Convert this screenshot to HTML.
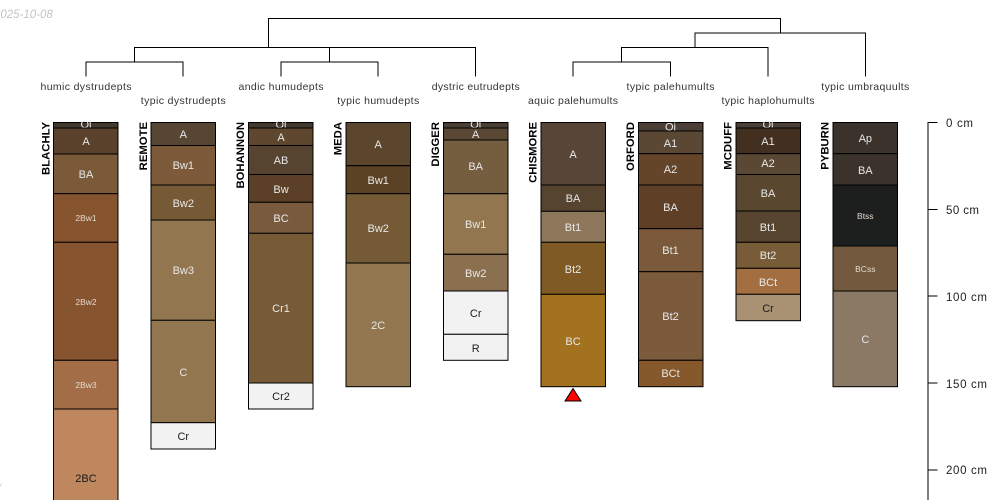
<!DOCTYPE html>
<html><head><meta charset="utf-8"><style>
html,body{margin:0;padding:0;background:#fff}
svg{display:block}
text{font-family:"Liberation Sans",sans-serif;font-size:11px}
.h{fill:#e8e8e8;text-anchor:middle}
.d{fill:#1a1a1a;text-anchor:middle}
.s{font-size:8.5px;fill:#e2d8cc;text-anchor:middle}
.t{fill:#333;text-anchor:middle;font-size:10.5px}
.i{font-weight:bold;font-size:11.3px;fill:#000;text-anchor:end}
.a{fill:#222;font-size:11.5px}
rect{stroke:#000;stroke-width:1}
.l{stroke:#000;stroke-width:1;fill:none}
</style></head><body>
<svg width="1000" height="500" viewBox="0 0 1000 500" xmlns="http://www.w3.org/2000/svg">
<text x="-6" y="18" fill="#c4c4c4" font-style="italic" style="font-size:11.5px">2025-10-08</text>
<text x="-2" y="491" fill="#d0d0d0" font-style="italic" style="font-size:11px">/</text>

<path class="l" d="M268.5 47.5V18.5H780.5V33M134.5 62V47.5H475.5V76.5M329.5 47.5V62M86 76.5V62H183V76.5M281 76.5V62H378V76.5M621.5 62V47.5H768V76.5M573 76.5V62H670.5V76.5M695 47.5V33H865.5V76.5"/>

<text class="t" x="86" y="90" textLength="91">humic dystrudepts</text>
<text class="t" x="183.3" y="104" textLength="85">typic dystrudepts</text>
<text class="t" x="281" y="90" textLength="85">andic humudepts</text>
<text class="t" x="378.2" y="104" textLength="82">typic humudepts</text>
<text class="t" x="475.7" y="90" textLength="88">dystric eutrudepts</text>
<text class="t" x="573" y="104" textLength="90">aquic palehumults</text>
<text class="t" x="670.5" y="90" textLength="88">typic palehumults</text>
<text class="t" x="768" y="104" textLength="93">typic haplohumults</text>
<text class="t" x="865.3" y="90" textLength="88">typic umbraquults</text>

<!-- BLACHLY -->
<g>
<rect x="53.5" y="122.5" width="64.5" height="6" fill="#44392f"/><text class="h" x="86" y="128">Oi</text>
<rect x="53.5" y="128" width="64.5" height="26" fill="#5a412b"/><text class="h" x="86" y="145">A</text>
<rect x="53.5" y="154" width="64.5" height="39.7" fill="#7b5a3a"/><text class="h" x="86" y="178">BA</text>
<rect x="53.5" y="193.7" width="64.5" height="48.6" fill="#875430"/><text class="s" x="86" y="221">2Bw1</text>
<rect x="53.5" y="242.3" width="64.5" height="118" fill="#875430"/><text class="s" x="86" y="305">2Bw2</text>
<rect x="53.5" y="360.3" width="64.5" height="48.7" fill="#a36e47"/><text class="s" x="86" y="388">2Bw3</text>
<rect x="53.5" y="409" width="64.5" height="100" fill="#bf875d"/><text class="d" x="86" y="482">2BC</text>
</g>
<text class="i" transform="translate(49.5,122) rotate(-90)">BLACHLY</text>

<!-- REMOTE -->
<g>
<rect x="151" y="122.5" width="64.5" height="23" fill="#574634"/><text class="h" x="183.3" y="138">A</text>
<rect x="151" y="145.5" width="64.5" height="39.5" fill="#7d5a3a"/><text class="h" x="183.3" y="169">Bw1</text>
<rect x="151" y="185" width="64.5" height="35" fill="#765a36"/><text class="h" x="183.3" y="207">Bw2</text>
<rect x="151" y="220" width="64.5" height="100.3" fill="#927650"/><text class="h" x="183.3" y="274">Bw3</text>
<rect x="151" y="320.3" width="64.5" height="102.4" fill="#927650"/><text class="h" x="183.3" y="376">C</text>
<rect x="151" y="422.7" width="64.5" height="26.3" fill="#f2f2f2"/><text class="d" x="183.3" y="440">Cr</text>
</g>
<text class="i" transform="translate(147,122) rotate(-90)">REMOTE</text>

<!-- BOHANNON -->
<g>
<rect x="248.5" y="122.5" width="64.5" height="6" fill="#44392f"/><text class="h" x="281" y="128">Oi</text>
<rect x="248.5" y="128" width="64.5" height="17.5" fill="#5e472e"/><text class="h" x="281" y="141">A</text>
<rect x="248.5" y="145.5" width="64.5" height="29" fill="#574430"/><text class="h" x="281" y="164">AB</text>
<rect x="248.5" y="174.5" width="64.5" height="27.8" fill="#5b3f27"/><text class="h" x="281" y="193">Bw</text>
<rect x="248.5" y="202.3" width="64.5" height="31" fill="#7a5a3c"/><text class="h" x="281" y="222">BC</text>
<rect x="248.5" y="233.3" width="64.5" height="149.7" fill="#775a36"/><text class="h" x="281" y="312">Cr1</text>
<rect x="248.5" y="383" width="64.5" height="26" fill="#f2f2f2"/><text class="d" x="281" y="400">Cr2</text>
</g>
<text class="i" transform="translate(244,122) rotate(-90)">BOHANNON</text>

<!-- MEDA -->
<g>
<rect x="346" y="122.5" width="64.5" height="43.2" fill="#5b452c"/><text class="h" x="378.2" y="148">A</text>
<rect x="346" y="165.7" width="64.5" height="28" fill="#5b4225"/><text class="h" x="378.2" y="184">Bw1</text>
<rect x="346" y="193.7" width="64.5" height="69.3" fill="#755a36"/><text class="h" x="378.2" y="232">Bw2</text>
<rect x="346" y="263" width="64.5" height="123.7" fill="#927650"/><text class="h" x="378.2" y="329">2C</text>
</g>
<text class="i" transform="translate(341.5,122) rotate(-90)">MEDA</text>

<!-- DIGGER -->
<g>
<rect x="443.5" y="122.5" width="64.5" height="6" fill="#4a3e34"/><text class="h" x="475.7" y="128">Oi</text>
<rect x="443.5" y="128" width="64.5" height="12" fill="#5a4835"/><text class="h" x="475.7" y="138">A</text>
<rect x="443.5" y="140" width="64.5" height="53.7" fill="#755d40"/><text class="h" x="475.7" y="170">BA</text>
<rect x="443.5" y="193.7" width="64.5" height="60.6" fill="#927650"/><text class="h" x="475.7" y="228">Bw1</text>
<rect x="443.5" y="254.3" width="64.5" height="36.7" fill="#8b7050"/><text class="h" x="475.7" y="277">Bw2</text>
<rect x="443.5" y="291" width="64.5" height="43.3" fill="#f2f2f2"/><text class="d" x="475.7" y="317">Cr</text>
<rect x="443.5" y="334.3" width="64.5" height="26" fill="#f2f2f2"/><text class="d" x="475.7" y="352">R</text>
</g>
<text class="i" transform="translate(439,122) rotate(-90)">DIGGER</text>

<!-- CHISMORE -->
<g>
<rect x="541" y="122.5" width="64.5" height="62.5" fill="#574637"/><text class="h" x="573" y="158">A</text>
<rect x="541" y="185" width="64.5" height="26.3" fill="#574430"/><text class="h" x="573" y="202">BA</text>
<rect x="541" y="211.3" width="64.5" height="31" fill="#8e785c"/><text class="h" x="573" y="231">Bt1</text>
<rect x="541" y="242.3" width="64.5" height="52" fill="#7f5a24"/><text class="h" x="573" y="273">Bt2</text>
<rect x="541" y="294.3" width="64.5" height="92.4" fill="#a3721e"/><text class="h" x="573" y="345">BC</text>
</g>
<text class="i" transform="translate(536.5,122) rotate(-90)">CHISMORE</text>
<polygon points="573,388.5 565,401 581,401" fill="#f00" stroke="#000" stroke-width="1"/>

<!-- ORFORD -->
<g>
<rect x="638.5" y="122.5" width="64.5" height="8.5" fill="#4a3e36"/><text class="h" x="670.5" y="130.5">Oi</text>
<rect x="638.5" y="131" width="64.5" height="22.7" fill="#5a4835"/><text class="h" x="670.5" y="147">A1</text>
<rect x="638.5" y="153.7" width="64.5" height="31.3" fill="#65452a"/><text class="h" x="670.5" y="173">A2</text>
<rect x="638.5" y="185" width="64.5" height="43.7" fill="#5f4027"/><text class="h" x="670.5" y="211">BA</text>
<rect x="638.5" y="228.7" width="64.5" height="43" fill="#7a5a3a"/><text class="h" x="670.5" y="254">Bt1</text>
<rect x="638.5" y="271.7" width="64.5" height="88.6" fill="#7c5a3c"/><text class="h" x="670.5" y="320">Bt2</text>
<rect x="638.5" y="360.3" width="64.5" height="26.4" fill="#85592b"/><text class="h" x="670.5" y="377">BCt</text>
</g>
<text class="i" transform="translate(634,122) rotate(-90)">ORFORD</text>

<!-- MCDUFF -->
<g>
<rect x="736" y="122.5" width="64.5" height="6" fill="#4a3e36"/><text class="h" x="768" y="128">Oi</text>
<rect x="736" y="128" width="64.5" height="25.7" fill="#422f20"/><text class="h" x="768" y="145">A1</text>
<rect x="736" y="153.7" width="64.5" height="20.8" fill="#5a4835"/><text class="h" x="768" y="167">A2</text>
<rect x="736" y="174.5" width="64.5" height="36.5" fill="#594730"/><text class="h" x="768" y="197">BA</text>
<rect x="736" y="211" width="64.5" height="31.3" fill="#58452f"/><text class="h" x="768" y="231">Bt1</text>
<rect x="736" y="242.3" width="64.5" height="26" fill="#775c37"/><text class="h" x="768" y="259">Bt2</text>
<rect x="736" y="268.3" width="64.5" height="26" fill="#a36e40"/><text class="h" x="768" y="286">BCt</text>
<rect x="736" y="294.3" width="64.5" height="26.4" fill="#a99174"/><text class="d" x="768" y="312">Cr</text>
</g>
<text class="i" transform="translate(731.5,122) rotate(-90)">MCDUFF</text>

<!-- PYBURN -->
<g>
<rect x="833" y="122.5" width="64.5" height="31.2" fill="#3b322c"/><text class="h" x="865.3" y="142">Ap</text>
<rect x="833" y="153.7" width="64.5" height="31.3" fill="#3b322c"/><text class="h" x="865.3" y="174">BA</text>
<rect x="833" y="185" width="64.5" height="61" fill="#1c1f1d"/><text class="s" x="865.3" y="219">Btss</text>
<rect x="833" y="246" width="64.5" height="45" fill="#735a3e"/><text class="s" x="865.3" y="272">BCss</text>
<rect x="833" y="291" width="64.5" height="95.7" fill="#8b7966"/><text class="h" x="865.3" y="343">C</text>
</g>
<text class="i" transform="translate(828.5,122) rotate(-90)">PYBURN</text>

<!-- axis -->
<path d="M937.5 122.5H928V500M928 209.5H937.5M928 296H937.5M928 383H937.5M928 470H937.5" stroke="#000" stroke-width="1" fill="none"/>
<text class="a" x="946" y="127" textLength="27">0 cm</text>
<text class="a" x="946" y="214" textLength="33">50 cm</text>
<text class="a" x="946" y="301" textLength="41">100 cm</text>
<text class="a" x="946" y="388" textLength="41">150 cm</text>
<text class="a" x="946" y="474" textLength="41">200 cm</text>
</svg>
</body></html>
